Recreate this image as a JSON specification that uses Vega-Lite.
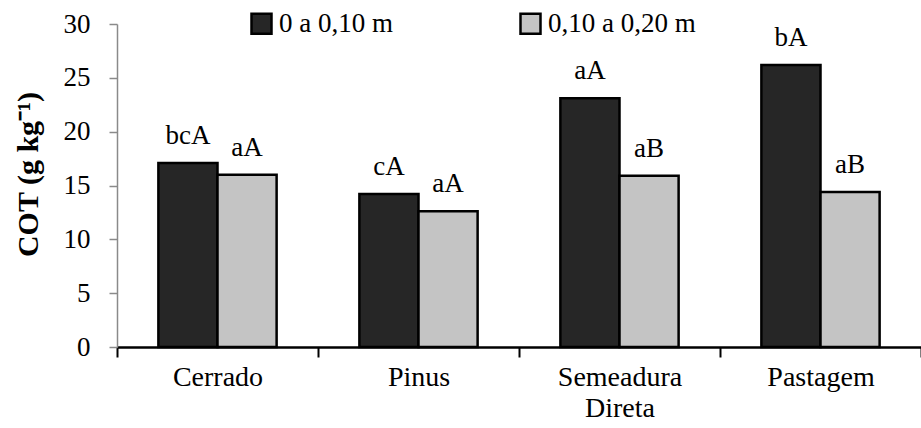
{
  "$schema": "https://vega.github.io/schema/vega-lite/v6.json",
  "width": 804,
  "height": 323,
  "autosize": {"type": "none"},
  "padding": {"left": 117, "top": 24, "right": 0, "bottom": 81},
  "background": "white",
  "config": {
    "view": {"stroke": null},
    "font": "Liberation Serif, serif",
    "axis": {"labelFont": "Liberation Serif, serif", "titleFont": "Liberation Serif, serif", "labelColor": "black", "grid": false},
    "legend": {"labelFont": "Liberation Serif, serif", "titleFont": "Liberation Serif, serif"},
    "text": {"font": "Liberation Serif, serif"}
  },
  "data": {
    "values": [
      {"uso": "Cerrado", "prof": "0 a 0,10 m", "cot": 17.1, "letra": "bcA"},
      {"uso": "Cerrado", "prof": "0,10 a 0,20 m", "cot": 16.0, "letra": "aA"},
      {"uso": "Pinus", "prof": "0 a 0,10 m", "cot": 14.2, "letra": "cA"},
      {"uso": "Pinus", "prof": "0,10 a 0,20 m", "cot": 12.6, "letra": "aA"},
      {"uso": "Semeadura Direta", "prof": "0 a 0,10 m", "cot": 23.1, "letra": "aA"},
      {"uso": "Semeadura Direta", "prof": "0,10 a 0,20 m", "cot": 15.9, "letra": "aB"},
      {"uso": "Pastagem", "prof": "0 a 0,10 m", "cot": 26.2, "letra": "bA"},
      {"uso": "Pastagem", "prof": "0,10 a 0,20 m", "cot": 14.4, "letra": "aB"}
    ]
  },
  "encoding": {
    "x": {
      "field": "uso",
      "type": "nominal",
      "sort": ["Cerrado", "Pinus", "Semeadura Direta", "Pastagem"],
      "scale": {"paddingInner": 0, "paddingOuter": 0},
      "axis": {
        "title": null,
        "labelAngle": 0,
        "labelFont": "Liberation Serif, serif",
        "labelFontSize": 28,
        "labelLineHeight": 31,
        "labelPadding": 6,
        "labelBaseline": "top",
        "labelExpr": "datum.label == 'Semeadura Direta' ? ['Semeadura', 'Direta'] : datum.label",
        "tickBand": "extent",
        "tickSize": 10,
        "tickWidth": 2,
        "tickColor": "black",
        "domainColor": "black",
        "domainWidth": 2.5
      }
    },
    "xOffset": {
      "field": "prof",
      "type": "nominal",
      "sort": ["0 a 0,10 m", "0,10 a 0,20 m"],
      "scale": {"paddingInner": 0, "paddingOuter": 0.7}
    },
    "y": {
      "field": "cot",
      "type": "quantitative",
      "scale": {"domain": [0, 30], "nice": false},
      "axis": {
        "values": [0, 5, 10, 15, 20, 25, 30],
        "labelFont": "Liberation Serif, serif",
        "labelFontSize": 27,
        "labelPadding": 19,
        "tickSize": 8,
        "tickColor": "#8a8a8a",
        "tickWidth": 1.5,
        "domainColor": "#8a8a8a",
        "domainWidth": 1.5,
        "title": "COT (g kg⁻¹)",
        "titleFont": "Liberation Serif, serif",
        "titleFontSize": 30,
        "titleFontWeight": "bold",
        "titleColor": "black",
        "titleAngle": -90,
        "titleAlign": "center",
        "titleBaseline": "middle",
        "titleX": -89,
        "titleY": 150
      }
    }
  },
  "layer": [
    {
      "mark": {"type": "bar", "stroke": "black", "strokeWidth": 2.5},
      "encoding": {
        "color": {
          "field": "prof",
          "type": "nominal",
          "scale": {"domain": ["0 a 0,10 m", "0,10 a 0,20 m"], "range": ["#262626", "#c4c4c4"]},
          "legend": {
            "title": null,
            "orient": "none",
            "direction": "horizontal",
            "legendX": 131,
            "legendY": -14,
            "symbolType": "square",
            "symbolSize": 400,
            "symbolStrokeColor": "black",
            "symbolStrokeWidth": 2.5,
            "symbolOpacity": 1,
            "labelFont": "Liberation Serif, serif",
            "labelFontSize": 27,
            "labelColor": "black",
            "labelOffset": 4,
            "columnPadding": 122
          }
        }
      }
    },
    {
      "mark": {"type": "text", "baseline": "alphabetic", "dy": -19, "fontSize": 27, "color": "black", "font": "Liberation Serif, serif"},
      "encoding": {"text": {"field": "letra"}}
    }
  ]
}
